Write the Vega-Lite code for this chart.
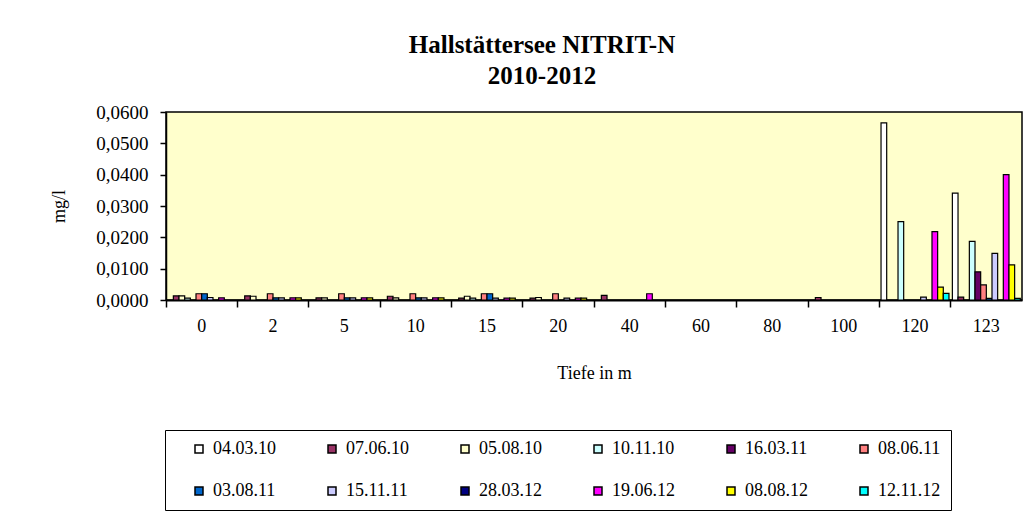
{
  "$schema": "https://vega.github.io/schema/vega-lite/v6.json",
  "width": 856,
  "height": 188,
  "autosize": {"type": "none"},
  "padding": {"left": 166, "top": 112, "right": 12, "bottom": 214},
  "background": "white",
  "title": {
    "text": ["Hallstättersee NITRIT-N", "2010-2012"],
    "font": "Liberation Serif",
    "fontSize": 25,
    "fontWeight": "bold",
    "color": "black",
    "anchor": "middle",
    "dx": -52,
    "offset": 14,
    "lineHeight": 31
  },
  "data": {
    "values": [
      {"tiefe": "0", "datum": "07.06.10", "wert": 0.0013},
      {"tiefe": "0", "datum": "05.08.10", "wert": 0.0013},
      {"tiefe": "0", "datum": "10.11.10", "wert": 0.0006},
      {"tiefe": "0", "datum": "08.06.11", "wert": 0.0020},
      {"tiefe": "0", "datum": "03.08.11", "wert": 0.0020},
      {"tiefe": "0", "datum": "15.11.11", "wert": 0.0008},
      {"tiefe": "0", "datum": "19.06.12", "wert": 0.0007},
      {"tiefe": "2", "datum": "07.06.10", "wert": 0.0013},
      {"tiefe": "2", "datum": "05.08.10", "wert": 0.0012},
      {"tiefe": "2", "datum": "08.06.11", "wert": 0.0020},
      {"tiefe": "2", "datum": "03.08.11", "wert": 0.0007},
      {"tiefe": "2", "datum": "15.11.11", "wert": 0.0007},
      {"tiefe": "2", "datum": "19.06.12", "wert": 0.0007},
      {"tiefe": "2", "datum": "08.08.12", "wert": 0.0007},
      {"tiefe": "5", "datum": "07.06.10", "wert": 0.0007},
      {"tiefe": "5", "datum": "05.08.10", "wert": 0.0007},
      {"tiefe": "5", "datum": "08.06.11", "wert": 0.0020},
      {"tiefe": "5", "datum": "03.08.11", "wert": 0.0007},
      {"tiefe": "5", "datum": "15.11.11", "wert": 0.0007},
      {"tiefe": "5", "datum": "19.06.12", "wert": 0.0007},
      {"tiefe": "5", "datum": "08.08.12", "wert": 0.0007},
      {"tiefe": "10", "datum": "07.06.10", "wert": 0.0012},
      {"tiefe": "10", "datum": "05.08.10", "wert": 0.0007},
      {"tiefe": "10", "datum": "08.06.11", "wert": 0.0020},
      {"tiefe": "10", "datum": "03.08.11", "wert": 0.0007},
      {"tiefe": "10", "datum": "15.11.11", "wert": 0.0007},
      {"tiefe": "10", "datum": "19.06.12", "wert": 0.0007},
      {"tiefe": "10", "datum": "08.08.12", "wert": 0.0007},
      {"tiefe": "15", "datum": "07.06.10", "wert": 0.0006},
      {"tiefe": "15", "datum": "05.08.10", "wert": 0.0012},
      {"tiefe": "15", "datum": "10.11.10", "wert": 0.0006},
      {"tiefe": "15", "datum": "08.06.11", "wert": 0.0020},
      {"tiefe": "15", "datum": "03.08.11", "wert": 0.0020},
      {"tiefe": "15", "datum": "15.11.11", "wert": 0.0006},
      {"tiefe": "15", "datum": "19.06.12", "wert": 0.0006},
      {"tiefe": "15", "datum": "08.08.12", "wert": 0.0006},
      {"tiefe": "20", "datum": "07.06.10", "wert": 0.0006},
      {"tiefe": "20", "datum": "05.08.10", "wert": 0.0008},
      {"tiefe": "20", "datum": "08.06.11", "wert": 0.0020},
      {"tiefe": "20", "datum": "15.11.11", "wert": 0.0006},
      {"tiefe": "20", "datum": "19.06.12", "wert": 0.0006},
      {"tiefe": "20", "datum": "08.08.12", "wert": 0.0006},
      {"tiefe": "40", "datum": "07.06.10", "wert": 0.0015},
      {"tiefe": "40", "datum": "19.06.12", "wert": 0.0020},
      {"tiefe": "100", "datum": "07.06.10", "wert": 0.0008},
      {"tiefe": "120", "datum": "04.03.10", "wert": 0.0565},
      {"tiefe": "120", "datum": "10.11.10", "wert": 0.0250},
      {"tiefe": "120", "datum": "15.11.11", "wert": 0.0009},
      {"tiefe": "120", "datum": "19.06.12", "wert": 0.0218},
      {"tiefe": "120", "datum": "08.08.12", "wert": 0.0041},
      {"tiefe": "120", "datum": "12.11.12", "wert": 0.0021},
      {"tiefe": "123", "datum": "04.03.10", "wert": 0.0341},
      {"tiefe": "123", "datum": "07.06.10", "wert": 0.0009},
      {"tiefe": "123", "datum": "10.11.10", "wert": 0.0187},
      {"tiefe": "123", "datum": "16.03.11", "wert": 0.0090},
      {"tiefe": "123", "datum": "08.06.11", "wert": 0.0048},
      {"tiefe": "123", "datum": "03.08.11", "wert": 0.0005},
      {"tiefe": "123", "datum": "15.11.11", "wert": 0.0149},
      {"tiefe": "123", "datum": "19.06.12", "wert": 0.0400},
      {"tiefe": "123", "datum": "08.08.12", "wert": 0.0112},
      {"tiefe": "123", "datum": "12.11.12", "wert": 0.0005}
    ]
  },
  "mark": {"type": "bar", "stroke": "black", "strokeWidth": 1.2},
  "encoding": {
    "x": {
      "field": "tiefe",
      "type": "nominal",
      "scale": {
        "domain": ["0", "2", "5", "10", "15", "20", "40", "60", "80", "100", "120", "123"],
        "paddingInner": 0,
        "paddingOuter": 0
      },
      "axis": {
        "labelAngle": 0,
        "bandPosition": 0,
        "tickSize": 7,
        "tickColor": "black",
        "tickWidth": 1.5,
        "domainColor": "black",
        "domainWidth": 2,
        "labelFont": "Liberation Serif",
        "labelFontSize": 18,
        "labelColor": "black",
        "labelPadding": 10,
        "title": "Tiefe in m",
        "titleFont": "Liberation Serif",
        "titleFontSize": 18,
        "titleFontWeight": "normal",
        "titleColor": "black",
        "titlePadding": 29
      }
    },
    "xOffset": {
      "field": "datum",
      "type": "nominal",
      "scale": {
        "domain": ["04.03.10", "07.06.10", "05.08.10", "10.11.10", "16.03.11", "08.06.11", "03.08.11", "15.11.11", "28.03.12", "19.06.12", "08.08.12", "12.11.12"],
        "paddingInner": 0,
        "paddingOuter": 0.3
      }
    },
    "y": {
      "field": "wert",
      "type": "quantitative",
      "scale": {"domain": [0, 0.06], "nice": false},
      "axis": {
        "values": [0, 0.01, 0.02, 0.03, 0.04, 0.05, 0.06],
        "labelExpr": "replace(format(datum.value, '.4f'), '.', ',')",
        "grid": false,
        "domainColor": "black",
        "domainWidth": 1.5,
        "tickColor": "black",
        "tickWidth": 1.5,
        "tickSize": 6,
        "labelFont": "Liberation Serif",
        "labelFontSize": 19,
        "labelColor": "black",
        "labelPadding": 12,
        "title": "mg/l",
        "titleFont": "Liberation Serif",
        "titleFontSize": 18,
        "titleFontWeight": "normal",
        "titleColor": "black",
        "titlePadding": 27
      }
    },
    "color": {
      "field": "datum",
      "type": "nominal",
      "scale": {
        "domain": ["04.03.10", "07.06.10", "05.08.10", "10.11.10", "16.03.11", "08.06.11", "03.08.11", "15.11.11", "28.03.12", "19.06.12", "08.08.12", "12.11.12"],
        "range": ["#FFFFFF", "#993366", "#FFFFCC", "#CCFFFF", "#660066", "#FF8080", "#0066CC", "#CCCCFF", "#000080", "#FF00FF", "#FFFF00", "#00FFFF"]
      },
      "legend": {
        "orient": "none",
        "legendX": -1,
        "legendY": 318,
        "direction": "horizontal",
        "columns": 6,
        "title": null,
        "symbolType": "square",
        "symbolSize": 64,
        "symbolStrokeColor": "black",
        "symbolStrokeWidth": 1.5,
        "symbolOpacity": 1,
        "symbolOffset": 15,
        "labelOffset": 5,
        "labelFont": "Liberation Serif",
        "labelFontSize": 18,
        "labelColor": "black",
        "columnPadding": 32,
        "rowPadding": 24,
        "padding": 10,
        "strokeColor": "black"
      }
    }
  },
  "config": {
    "view": {"fill": "#FFFFCC", "stroke": "black", "strokeWidth": 1.5}
  }
}
